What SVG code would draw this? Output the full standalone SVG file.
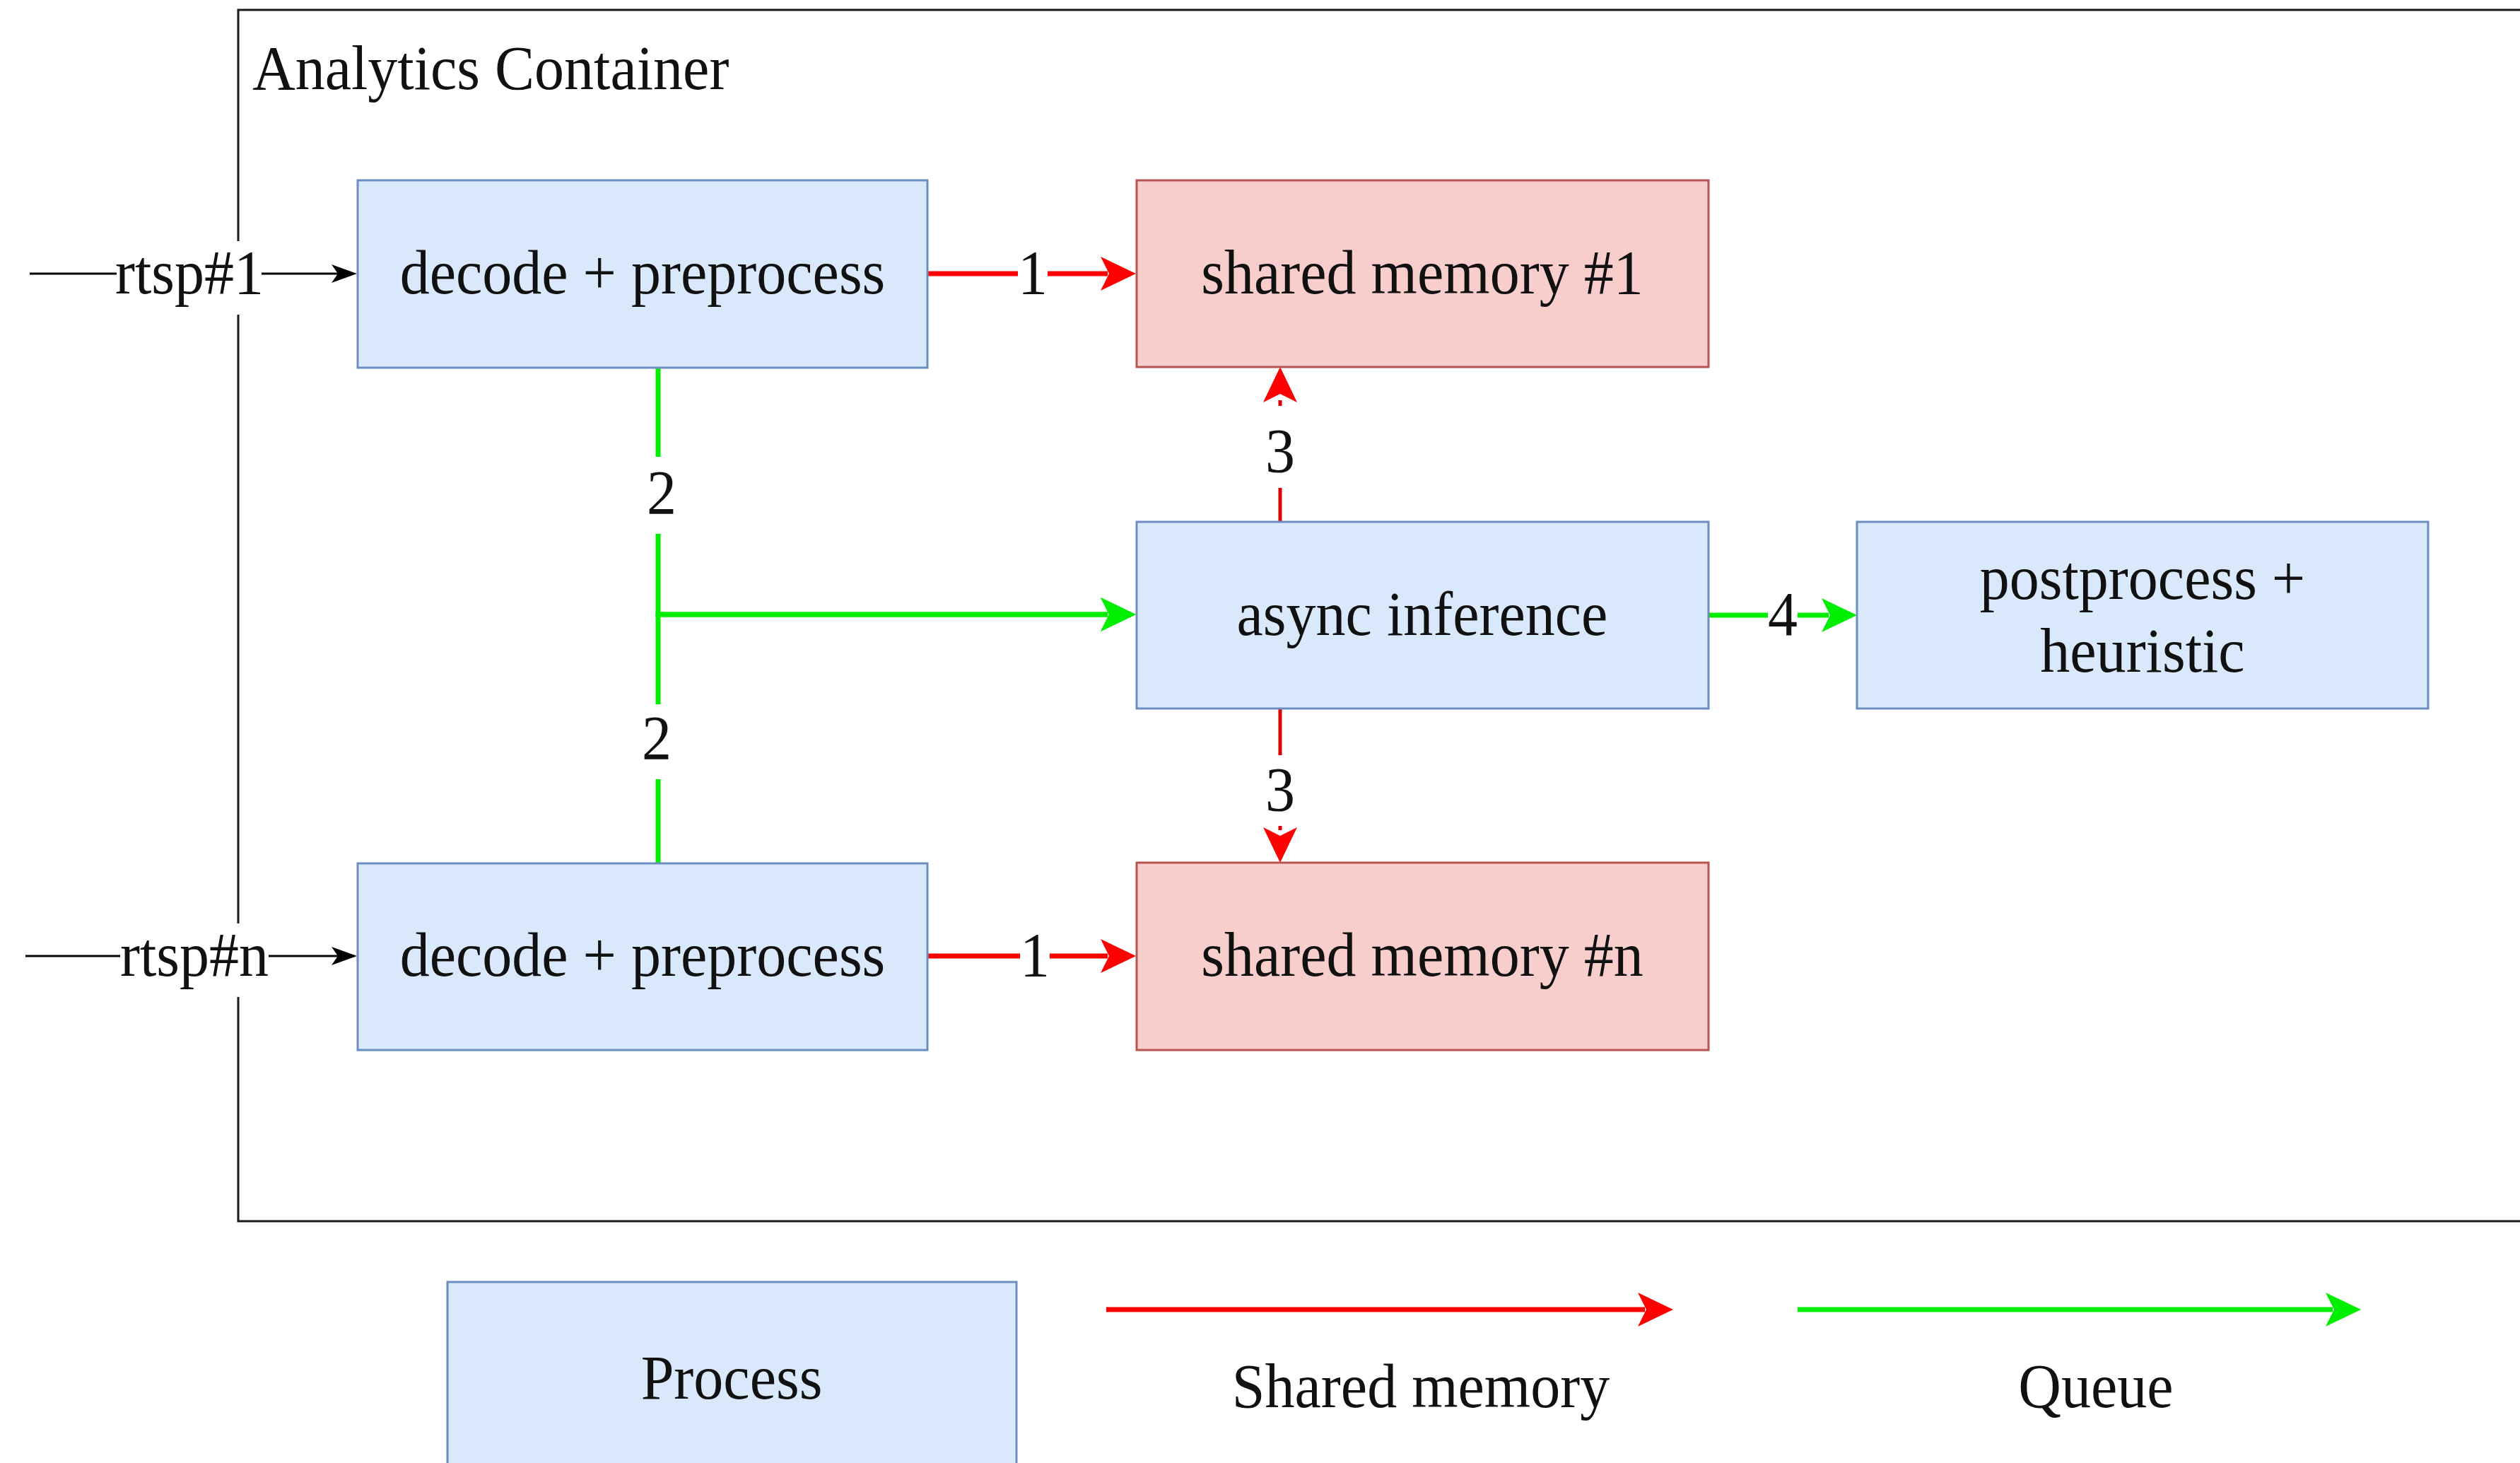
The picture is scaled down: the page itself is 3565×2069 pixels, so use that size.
<svg xmlns="http://www.w3.org/2000/svg" width="3565" height="2069" viewBox="0 0 3565 2069">
<style>
text{font-family:"Liberation Serif","Times New Roman",serif;font-size:88px;fill:#111;transform:scaleX(0.955);transform-box:fill-box;transform-origin:center;}
.l{transform-origin:left center;}
.c{text-anchor:middle;}
.proc{fill:#dae8fc;stroke:#6c8ebf;stroke-width:3;}
.shm{fill:#f8cecc;stroke:#b85450;stroke-width:3;}
.bg{fill:#ffffff;}
.red{fill:none;stroke:#ff0000;stroke-width:7;}
.redd{fill:none;stroke:#dd0000;stroke-width:5;stroke-dasharray:66 40;}
.green{fill:none;stroke:#00ee00;stroke-width:7;}
.blk{fill:none;stroke:#000;stroke-width:3;}
</style>
<defs>
<marker id="ar" markerUnits="userSpaceOnUse" markerWidth="50" markerHeight="48" refX="10" refY="24" orient="auto" overflow="visible"><path d="M0,0 L50,24 L0,48 L12,24 z" fill="#ff0000"/></marker>
<marker id="ag" markerUnits="userSpaceOnUse" markerWidth="50" markerHeight="48" refX="10" refY="24" orient="auto" overflow="visible"><path d="M0,0 L50,24 L0,48 L12,24 z" fill="#00ee00"/></marker>
<marker id="ab" markerUnits="userSpaceOnUse" markerWidth="36" markerHeight="26" refX="12" refY="13" orient="auto" overflow="visible"><path d="M0,0 L36,13 L0,26 L9,13 z" fill="#000"/></marker>
</defs>
<rect width="3565" height="2069" fill="#ffffff"/>
<g id="container">
<path d="M3565,14 L337,14 L337,1727 L3565,1727" fill="none" stroke="#1a1a1a" stroke-width="3"/>
<text class="l" x="357" y="126">Analytics Container</text>
</g>
<g id="connectors">
<path class="blk" d="M42,387 L481,387" marker-end="url(#ab)"/>
<path class="blk" d="M36,1352 L481,1352" marker-end="url(#ab)"/>
<path class="red" d="M1312,387 L1567,387" marker-end="url(#ar)"/>
<path class="red" d="M1312,1352 L1567,1352" marker-end="url(#ar)"/>
<path class="redd" d="M1811,738 L1811,559" marker-end="url(#ar)"/>
<path class="redd" d="M1811,1002 L1811,1180" marker-end="url(#ar)"/>
<path class="green" d="M931,520 L931,869 L1567,869" marker-end="url(#ag)"/>
<path class="green" d="M931,1221 L931,869 L1567,869" marker-end="url(#ag)"/>
<path class="green" d="M2417,870 L2587,870" marker-end="url(#ag)"/>
<g id="edge-labels">
<rect class="bg" x="165" y="341" width="205" height="104"/>
<text class="c" x="268" y="415">rtsp#1</text>
<rect class="bg" x="170" y="1306" width="210" height="104"/>
<text class="c" x="275" y="1380">rtsp#n</text>
<rect class="bg" x="1440" y="345" width="42" height="84"/>
<text class="c" x="1461" y="415">1</text>
<rect class="bg" x="1443" y="1310" width="42" height="84"/>
<text class="c" x="1464" y="1380">1</text>
<rect class="bg" x="1790" y="574" width="42" height="116"/>
<text class="c" x="1811" y="667">3</text>
<rect class="bg" x="1790" y="1072" width="42" height="96"/>
<text class="c" x="1811" y="1146">3</text>
<rect class="bg" x="915" y="646" width="42" height="109"/>
<text class="c" x="936" y="726">2</text>
<rect class="bg" x="908" y="996" width="42" height="106"/>
<text class="c" x="929" y="1073">2</text>
<rect class="bg" x="2501" y="830" width="42" height="80"/>
<text class="c" x="2522" y="898">4</text>
</g>
</g>
<g id="decode1"><rect class="proc" x="506" y="255" width="806" height="265"/><text class="c" x="909" y="415">decode + preprocess</text></g>
<g id="decoden"><rect class="proc" x="506" y="1221" width="806" height="264"/><text class="c" x="909" y="1380">decode + preprocess</text></g>
<g id="shm1"><rect class="shm" x="1608" y="255" width="809" height="264"/><text class="c" x="2012" y="415">shared memory #1</text></g>
<g id="shmn"><rect class="shm" x="1608" y="1220" width="809" height="265"/><text class="c" x="2012" y="1380">shared memory #n</text></g>
<g id="async"><rect class="proc" x="1608" y="738" width="809" height="264"/><text class="c" x="2012" y="898">async inference</text></g>
<g id="postprocess"><rect class="proc" x="2627" y="738" width="808" height="264"/><text class="c" x="3031" y="847">postprocess +</text><text class="c" x="3031" y="950">heuristic</text></g>
<g id="legend">
<g id="legend-process"><rect class="proc" x="633" y="1813" width="805" height="300"/><text class="c" x="1035" y="1978">Process</text></g>
<path class="red" d="M1565,1852 L2327,1852" marker-end="url(#ar)"/>
<text class="c" x="2010" y="1990">Shared memory</text>
<path class="green" d="M2543,1852 L3300,1852" marker-end="url(#ag)"/>
<text class="c" x="2965" y="1990">Queue</text>
</g>
</svg>
